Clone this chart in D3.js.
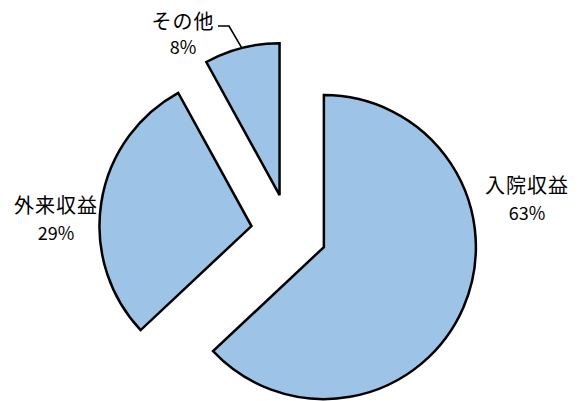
<!DOCTYPE html>
<html><head><meta charset="utf-8">
<script src="https://cdn.jsdelivr.net/npm/d3@7"></script>
<style>
html,body{margin:0;padding:0;background:#fff;}
svg text{font-family:"Noto Sans CJK JP","Noto Sans",sans-serif;fill:#000;}
</style></head>
<body>
<script>
const categories = ["入院収益", "外来収益", "その他"];
const values = [63, 29, 8];
const percentLabels = ["63%", "29%", "8%"];

const W = 581, H = 401;
const cx = 289, cy = 232, R = 152, explode = 38;
// label anchor layout (name baseline, percent baseline)
const labelLayout = [
  {x: 527, y: 193, py: 220},
  {x: 56, y: 213, py: 240},
  {x: 183, y: 29, py: 54}
];

const svg = d3.select("body").append("svg").attr("width", W).attr("height", H);
const pie = d3.pie().sort(null).value(d => d)(values);
const arc = d3.arc().innerRadius(0).outerRadius(R);
const g = svg.append("g").attr("transform", `translate(${cx},${cy})`);

function offset(d, k) {
  const a = (d.startAngle + d.endAngle) / 2;
  return [Math.sin(a) * k, -Math.cos(a) * k];
}

g.selectAll("path.slice").data(pie).enter().append("path")
  .attr("class", "slice")
  .attr("d", arc)
  .attr("transform", d => { const o = offset(d, explode); return `translate(${o[0]},${o[1]})`; })
  .attr("fill", "#9DC3E6")
  .attr("stroke", "#000")
  .attr("stroke-width", 2.5)
  .attr("stroke-linejoin", "miter");

// leader line for small slice
const small = pie[2];
const o3 = offset(small, explode);
const e3 = offset(small, R);
const endX = cx + o3[0] + e3[0], endY = cy + o3[1] + e3[1];
svg.append("polyline")
  .attr("points", `${218},${26} ${229},${26} ${endX},${endY}`)
  .attr("fill", "none").attr("stroke", "#000").attr("stroke-width", 1.6);

const lab = svg.append("g");
categories.forEach((c, i) => {
  const L = labelLayout[i];
  lab.append("text").attr("x", L.x).attr("y", L.y).attr("text-anchor", "middle")
    .attr("font-size", 20).attr("letter-spacing", 1).text(c);
  lab.append("text").attr("x", L.x).attr("y", L.py).attr("text-anchor", "middle")
    .attr("font-size", 18).text(percentLabels[i]);
});
</script>
</body></html>
